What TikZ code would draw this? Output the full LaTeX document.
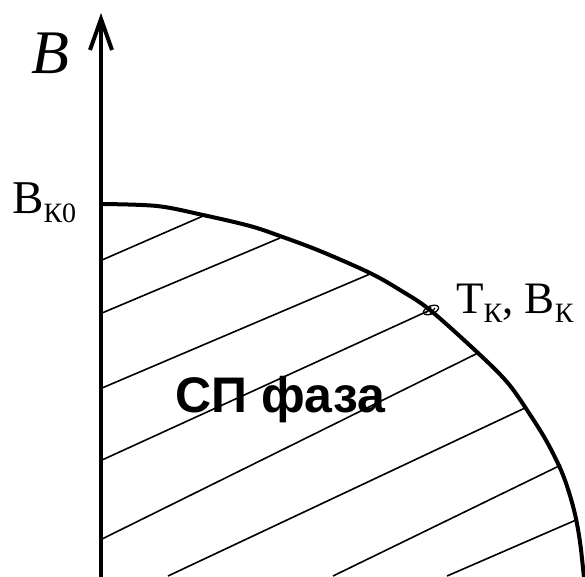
\documentclass[tikz,border=0pt]{standalone}
\usepackage{fontspec}
\setmainfont{Liberation Serif}
\setsansfont{Liberation Sans}
\usetikzlibrary{arrows.meta}
\tikzset{
  axisline/.style={line width=4pt,-{Straight Barb[length=31pt,width=22pt,line width=4pt]}},
  curveline/.style={line width=4pt},
  hatchline/.style={line width=1.6pt},
  lbl/.style={inner sep=0pt,anchor=base west},
}
\newcommand{\subK}[1]{\raisebox{-9pt}{\fontsize{28}{28}\selectfont #1}}
\begin{document}
\begin{tikzpicture}[x=1pt,y=-1pt]
\useasboundingbox (0,0) rectangle (585,576);
% hatching
\draw[hatchline] (102,260) -- (203,216);
\draw[hatchline] (102,313) -- (280,238);
\draw[hatchline] (102,388) -- (370,274);
\draw[hatchline] (102,460) -- (428,311);
\draw[hatchline] (102,539) -- (478,353);
\draw[hatchline] (168,576) -- (525,408);
\draw[hatchline] (333,576) -- (561,465);
\draw[hatchline] (447,576) -- (576,520);
% phase boundary
\draw[curveline] plot[smooth,tension=0.55] coordinates {(101,204) (157,206) (203,215) (250,226) (280,236) (320,251) (370,273) (400,290) (430,310) (478,353) (507,382) (527,410) (547,442) (563,475) (574,510) (580,542) (584,578)};
% axis
\coordinate (ax0) at (101,578);
\coordinate (ax1) at (101,13);
\draw[axisline] (ax0) -- (ax1);
% critical point marker
\draw[line width=1.3pt,rotate around={22:(431,310)}] (431,310) ellipse [x radius=8, y radius=4];
\draw[line width=1.2pt] (426,313) -- (431,307);
\draw[line width=1.2pt] (430,314) -- (435,308);
% labels
\node[lbl,font=\fontsize{62}{62}\selectfont\itshape] (lB) at (31,73) {B};
\node[lbl,font=\fontsize{47}{47}\selectfont] (lBk0) at (12,213) {B\subK{К0}};
\node[lbl,font=\fontsize{45}{45}\selectfont] (lTk) at (456,313) {T\subK{К}, B\subK{К}};
\node[lbl,font=\fontsize{50}{50}\selectfont\sffamily\bfseries] (lSP) at (175,412) {СП фаза};
\end{tikzpicture}
\end{document}
